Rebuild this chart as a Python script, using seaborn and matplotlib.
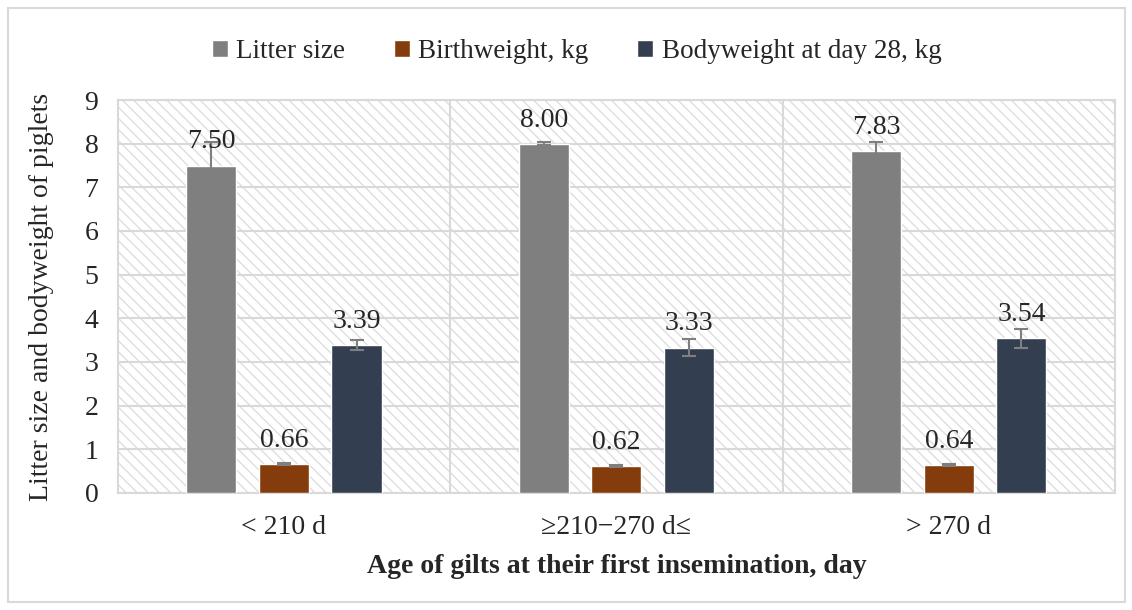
import numpy as np
import pandas as pd
import matplotlib
matplotlib.use("Agg")
import matplotlib.pyplot as plt
from matplotlib.patches import Rectangle
import seaborn as sns

# dados
grupos = ['< 210 d', '≥210−270 d≤', '> 270 d']
series = ['Litter size', 'Birthweight, kg', 'Bodyweight at day 28, kg']
litter = [7.50, 8.00, 7.83]
birth = [0.66, 0.62, 0.64]
body28 = [3.39, 3.33, 3.54]
err_litter = [0.55, 0.03, 0.22]
err_birth = [0.02, 0.02, 0.02]
err_body28 = [0.12, 0.20, 0.22]
cores = ['#7f7f7f', '#843c0c', '#333f50']

df = pd.DataFrame({
    'grupo': grupos * 3,
    'serie': np.repeat(series, 3),
    'valor': litter + birth + body28,
})
erros = err_litter + err_birth + err_body28

sns.set_style('white')
plt.rcParams['font.family'] = ['Liberation Serif', 'DejaVu Serif']
plt.rcParams['hatch.color'] = '#dedede'
plt.rcParams['hatch.linewidth'] = 1.0

fs = 20
fig = plt.figure(figsize=(11.32, 6.10), dpi=100)
ax = fig.add_axes([0.104, 0.192, 0.881, 0.644])

# fundo hachurado da área de plotagem
ax.add_patch(Rectangle((0, 0), 1, 1, transform=ax.transAxes, facecolor='white',
                       edgecolor='#dedede', linewidth=0, hatch='\\\\\\', zorder=0))

sns.barplot(data=df, x='grupo', y='valor', hue='serie', palette=cores,
            order=grupos, hue_order=series, width=0.655, gap=0.31,
            errorbar=None, saturation=1, ax=ax, zorder=3)

# barras de erro e rótulos
for cont, s in zip(ax.containers, series):
    vals = df[df.serie == s].valor.values
    idx = series.index(s)
    ee = erros[idx * 3:(idx + 1) * 3]
    xs = [p.get_x() + p.get_width() / 2 for p in cont]
    ax.errorbar(xs, vals, yerr=ee, fmt='none', ecolor='#7f7f7f',
                elinewidth=1.5, capsize=5, capthick=1.5, zorder=4)
    ax.bar_label(cont, labels=[f'{v:.2f}' for v in vals], padding=8,
                 fontsize=fs, zorder=5)

ax.set_ylim(0, 9)
ax.set_xlim(-0.5, 2.5)
ax.set_yticks(range(0, 10))
ax.yaxis.grid(True, color='#d9d9d9', linewidth=1.5, zorder=1)
ax.set_axisbelow(True)
for xv in [0.5, 1.5]:
    ax.axvline(xv, color='#d9d9d9', linewidth=1.5, zorder=1)
for sp in ax.spines.values():
    sp.set_color('#d9d9d9')
    sp.set_linewidth(1.5)

ax.tick_params(axis='y', length=0, labelsize=fs, pad=14)
ax.tick_params(axis='x', length=0, labelsize=fs, pad=16)
ax.set_ylabel('Litter size and bodyweight of piglets', fontsize=fs, labelpad=22)
ax.set_xlabel('Age of gilts at their first insemination, day', fontsize=fs,
              fontweight='bold', labelpad=10)

ax.legend(loc='lower center', bbox_to_anchor=(0.46, 1.03), ncol=3, frameon=False,
          fontsize=19.5, handlelength=0.6, handleheight=0.6, handletextpad=0.3,
          columnspacing=1.8)

# borda externa do gráfico
fig.add_artist(Rectangle((0.007, 0.013), 0.987, 0.974, transform=fig.transFigure,
                         facecolor='none', edgecolor='#d9d9d9', linewidth=1.5))

fig.savefig('out.png', dpi=100)
